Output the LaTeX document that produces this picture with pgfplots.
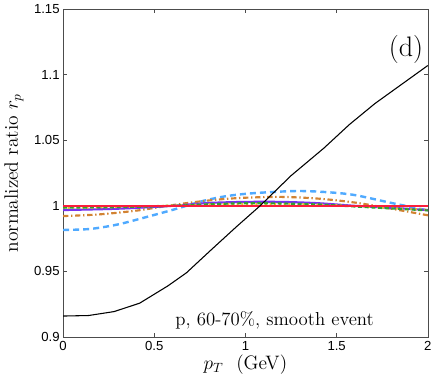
\documentclass[border=0pt]{standalone}
\usepackage{fontspec}
\usepackage{pgfplots}
\pgfplotsset{compat=1.18}
\newfontfamily\tickfont{Liberation Sans}
\definecolor{cRed}{RGB}{250,30,60}
\definecolor{cPurple}{RGB}{120,50,240}
\definecolor{cGreen}{RGB}{50,160,50}
\definecolor{cOrange}{RGB}{210,130,50}
\definecolor{cBlue}{RGB}{80,170,255}
\definecolor{cYellow}{RGB}{225,195,40}

\begin{document}
\begin{tikzpicture}
\begin{axis}[
  scale only axis, width=272pt, height=244.5pt,
  xmin=0, xmax=2, ymin=0.9, ymax=1.15,
  xtick={0,0.5,1,1.5,2}, ytick={0.9,0.95,1,1.05,1.1,1.15},
  yticklabels={0.9,0.95,1,1.05,1.1,1.15},
  xticklabels={0,0.5,1,1.5,2},
  tick align=inside, major tick length=3pt,
  tick label style={font=\tickfont\fontsize{9.8}{11}\selectfont},
  yticklabel style={xshift=1pt},
  axis line style={black!70},
  every tick/.style={black!70},
  label style={font=\fontsize{14.5}{16}\selectfont},
  xlabel={$p_T$\ \ (GeV)}, ylabel={normalized ratio $r_p$},
  xlabel style={yshift=4pt}, ylabel style={yshift=1pt},
  clip=true]
\addplot[cBlue, line width=1.8pt, dash pattern=on 4.5pt off 3pt, smooth] coordinates {
 (0,0.9816) (0.15,0.9824) (0.3,0.9858) (0.45,0.9912) (0.6,0.9969) (0.77,1.0038) (0.9,1.0075) (1.05,1.0097) (1.28,1.0113) (1.45,1.0104) (1.6,1.0082) (1.8,1.0022) (2.0,0.9965)};
\addplot[cOrange, line width=1.6pt, dash pattern=on 4pt off 2pt on 1pt off 2pt, smooth] coordinates {
 (0,0.9922) (0.2,0.9935) (0.4,0.9963) (0.55,0.9995) (0.7,1.0025) (0.85,1.0048) (1.0,1.0062) (1.2,1.0068) (1.4,1.0055) (1.6,1.0025) (1.8,0.9978) (2.0,0.9928)};
\addplot[cPurple, line width=1.6pt, smooth] coordinates {
 (0,0.9968) (0.3,0.9978) (0.6,1.0) (0.8,1.0022) (1.0,1.003) (1.2,1.003) (1.4,1.002) (1.6,1.0) (1.8,0.9985) (2.0,0.9968)};
\addplot[cYellow, line width=1.5pt, dotted, smooth] coordinates {
 (0,0.9985) (0.3,0.999) (0.6,1.0003) (0.8,1.0012) (1.0,1.0015) (1.2,1.0014) (1.4,1.001) (1.6,0.9998) (1.8,0.9983) (2.0,0.997)};
\addplot[cGreen, line width=1.6pt, dash pattern=on 3pt off 2pt, smooth] coordinates {
 (0,0.9987) (0.3,0.999) (0.6,1.0) (0.8,1.0012) (1.0,1.002) (1.2,1.0018) (1.4,1.001) (1.6,0.9995) (1.8,0.998) (2.0,0.9965)};
\addplot[cRed, line width=2pt] coordinates {(0,1.0) (2,1.0)};
\addplot[black, line width=0.8pt] coordinates {
 (0,0.916) (0.14,0.9164) (0.28,0.9194) (0.42,0.9258) (0.575,0.939) (0.676,0.9489) (0.814,0.9667) (0.95,0.984) (1.08,1.0) (1.25,1.023) (1.43,1.044) (1.57,1.062) (1.71,1.078) (1.86,1.093) (2.0,1.107)};
\node[anchor=north east, font=\fontsize{21}{24}\selectfont] at (rel axis cs:1.0,0.935) {(d)};
\node[font=\fontsize{14}{16}\selectfont] at (axis cs:1.16,0.9125) {p, 60-70\%, smooth event};
\end{axis}
\end{tikzpicture}
\end{document}
